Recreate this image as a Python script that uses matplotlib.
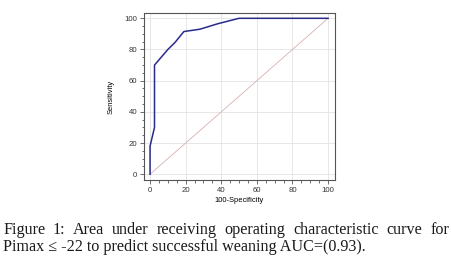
import matplotlib
matplotlib.use("Agg")
import matplotlib.pyplot as plt
from matplotlib.ticker import MultipleLocator

# data
fpr = [0, 0, 2.5, 2.5, 10, 14, 19, 28, 38, 50, 100]
tpr = [0, 18, 30, 70, 80, 84.5, 91.5, 93, 96.5, 100, 100]
ticks = [0, 20, 40, 60, 80, 100]
caption1 = "Figure 1: Area under receiving operating characteristic curve for"
caption2 = "Pimax \u2264 -22 to predict successful weaning AUC=(0.93)."

W, H = 452, 263
fig = plt.figure(figsize=(W/100, H/100), dpi=100)
ax = fig.add_axes([144/W, 1-180/H, (335-144)/W, (180-13)/H])
ax.set_xlim(-3.4, 103.9)
ax.set_ylim(-3.7, 103.4)
ax.plot([0, 100], [0, 100], color="#d8b0b0", lw=0.6)
ax.plot(fpr, tpr, color="#2a2a8c", lw=1.1)
ax.set_xticks(ticks)
ax.set_yticks(ticks)
ax.xaxis.set_minor_locator(MultipleLocator(5))
ax.yaxis.set_minor_locator(MultipleLocator(5))
ax.grid(True, color="#dddddd", lw=0.5)
ax.set_axisbelow(True)
ax.tick_params(labelsize=5.6, length=3, width=0.5, pad=2, colors="#333333")
ax.tick_params(which="minor", length=1.8, width=0.5, colors="#333333")
for lab in ax.get_xticklabels() + ax.get_yticklabels():
    lab.set_family("Liberation Sans")
for s in ax.spines.values():
    s.set_color("#555555")
    s.set_linewidth(0.8)
ax.set_xlabel("100-Specificity", fontsize=5.4, labelpad=2, family="Liberation Sans")
ax.set_ylabel("Sensitivity", fontsize=5.4, labelpad=7, family="Liberation Sans")

# caption, first line justified
fam = "Liberation Serif"
fs = 11.6
words = caption1.split(" ")
fig.canvas.draw()
r = fig.canvas.get_renderer()
tw = []
objs = []
for w in words:
    t = fig.text(0, 0, w, fontsize=fs, family=fam, color="#1a1a1a")
    objs.append(t)
    tw.append(t.get_window_extent(r).width)
x0, x1 = 3, 449
gap = (x1 - x0 - sum(tw)) / (len(words) - 1)
x = x0
for t, w in zip(objs, tw):
    t.set_position((x / W, 1 - 233.5 / H))
    x += w + gap
fig.text(x0 / W, 1 - 251 / H, caption2, fontsize=fs, family=fam, color="#1a1a1a")
fig.savefig("out.png", dpi=100)
